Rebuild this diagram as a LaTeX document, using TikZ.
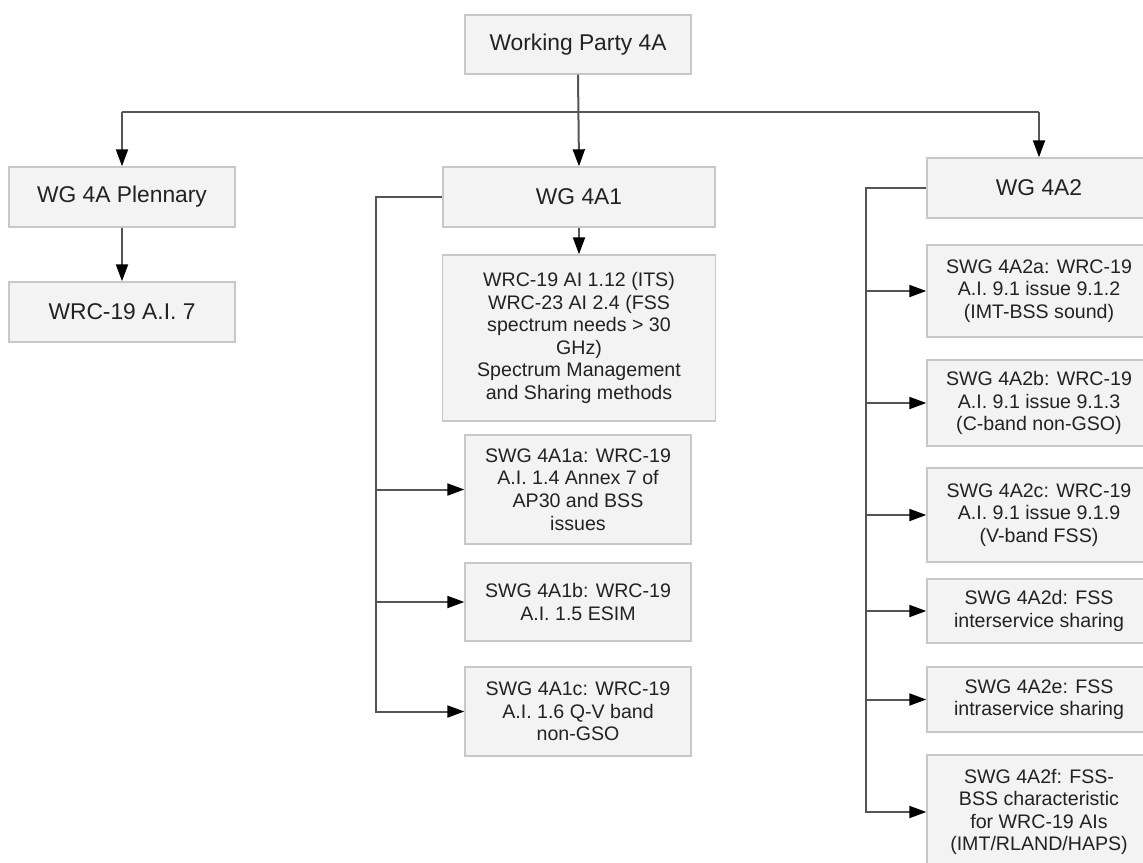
\documentclass[tikz,border=0pt]{standalone}
\usepackage{fontspec}
\setmainfont{Liberation Sans}
\usetikzlibrary{arrows.meta}
\definecolor{boxfill}{HTML}{F3F3F3}
\definecolor{boxline}{HTML}{C8C8C8}
\definecolor{conncol}{HTML}{555555}
\definecolor{txt}{HTML}{222222}
\begin{document}
\begin{tikzpicture}[x=1pt,y=-1pt,
  box/.style={draw=boxline,fill=boxfill,line width=1.4pt,inner sep=0pt,align=center,text=txt},
  hdr/.style={box,font=\fontsize{22.8}{26}\selectfont},
  sub/.style={box,font=\fontsize{19.6}{22.6}\selectfont},
  conn/.style={draw=conncol,line width=2pt},
  arr/.style={conn,-{Triangle[width=12pt,length=17pt,color=black]}}]
\clip (0,0) rectangle (1143,862);
\fill[white] (0,0) rectangle (1143,862);
% top
\node[hdr,minimum width=226pt,minimum height=59pt] (wp) at (578,44.5) {Working Party 4A};
% left column
\node[hdr,minimum width=226pt,minimum height=60pt] (pl) at (122,197) {WG 4A Plennary};
\node[hdr,minimum width=226pt,minimum height=60pt] (ai7) at (122,312) {WRC-19 A.I. 7};
% middle column
\node[hdr,minimum width=272pt,minimum height=60pt] (wg1) at (579,197) {WG 4A1};
\node[sub,minimum width=273pt,minimum height=166pt] (big) at (579,338) {WRC-19 AI 1.12 (ITS)\\WRC-23 AI 2.4 (FSS\\spectrum needs > 30\\GHz)\\Spectrum Management\\and Sharing methods};
\node[sub,minimum width=226pt,minimum height=109pt] (s1a) at (578,489.5) {SWG 4A1a: WRC-19\\A.I. 1.4 Annex 7 of\\AP30 and BSS\\issues};
\node[sub,minimum width=226pt,minimum height=78pt] (s1b) at (578,602) {SWG 4A1b: WRC-19\\A.I. 1.5 ESIM};
\node[sub,minimum width=226pt,minimum height=89pt] (s1c) at (578,711.5) {SWG 4A1c: WRC-19\\A.I. 1.6 Q-V band\\non-GSO};
% right column
\node[hdr,minimum width=224pt,minimum height=60pt] (wg2) at (1039,188) {WG 4A2};
\node[sub,minimum width=224pt,minimum height=92pt] (s2a) at (1039,291) {SWG 4A2a: WRC-19\\A.I. 9.1 issue 9.1.2\\(IMT-BSS sound)};
\node[sub,minimum width=224pt,minimum height=86pt] (s2b) at (1039,403) {SWG 4A2b: WRC-19\\A.I. 9.1 issue 9.1.3\\(C-band non-GSO)};
\node[sub,minimum width=224pt,minimum height=94pt] (s2c) at (1039,515) {SWG 4A2c: WRC-19\\A.I. 9.1 issue 9.1.9\\(V-band FSS)};
\node[sub,minimum width=224pt,minimum height=64pt] (s2d) at (1039,611) {SWG 4A2d: FSS\\interservice sharing};
\node[sub,minimum width=224pt,minimum height=65pt] (s2e) at (1039,699.5) {SWG 4A2e: FSS\\intraservice sharing};
\node[sub,minimum width=224pt,minimum height=114pt] (s2f) at (1039,812) {SWG 4A2f: FSS-\\BSS characteristic\\for WRC-19 AIs\\(IMT/RLAND/HAPS)};
% coordinates
\coordinate (hl) at (122,112);
\coordinate (hr) at (1039,112);
\coordinate (b1) at (376,711.5);
\coordinate (b2) at (866,812);
% connectors
\draw[conn] (hl) -- (hr);
\draw[arr] (wp.south) -- (wg1.north);
\draw[arr] (hl) -- (pl.north);
\draw[arr] (hr) -- (wg2.north);
\draw[arr] (pl.south) -- (ai7.north);
\draw[arr] (wg1.south) -- (big.north);
\draw[arr] (wg1.west) -| (b1) -- (s1c.west);
\draw[arr] (s1a.west -| b1) -- (s1a.west);
\draw[arr] (s1b.west -| b1) -- (s1b.west);
\draw[arr] (wg2.west) -| (b2) -- (s2f.west);
\draw[arr] (s2a.west -| b2) -- (s2a.west);
\draw[arr] (s2b.west -| b2) -- (s2b.west);
\draw[arr] (s2c.west -| b2) -- (s2c.west);
\draw[arr] (s2d.west -| b2) -- (s2d.west);
\draw[arr] (s2e.west -| b2) -- (s2e.west);
\end{tikzpicture}
\end{document}
